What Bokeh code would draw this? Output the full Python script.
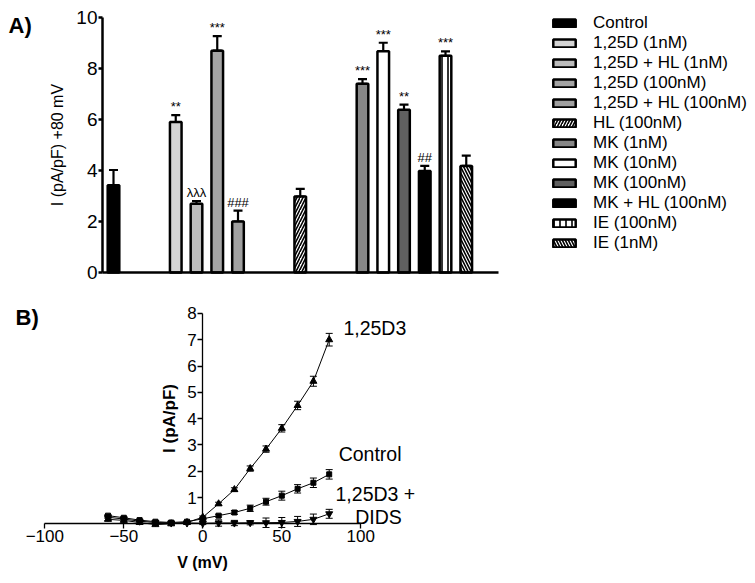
from bokeh.plotting import figure
from bokeh.models import (Range1d, LinearAxis, FixedTicker, ColumnDataSource, Whisker,
                          TeeHead, Legend, LegendItem, Label)
from bokeh.layouts import column
from bokeh.embed import file_html
from bokeh.resources import INLINE
from bokeh.core.properties import value

FONT = "Liberation Sans"

# ---------------- Panel A data ----------------
bar_labels = ["Control", "1,25D (1nM)", "1,25D + HL (1nM)", "1,25D (100nM)",
              "1,25D + HL (100nM)", "HL (100nM)", "MK (1nM)", "MK (10nM)",
              "MK (100nM)", "MK + HL (100nM)", "IE (100nM)", "IE (1nM)"]
bar_values = [3.42, 5.9, 2.7, 8.7, 2.0, 2.98, 7.4, 8.68, 6.38, 3.98, 8.5, 4.18]
bar_err_up = [0.6, 0.27, 0.1, 0.57, 0.43, 0.3, 0.18, 0.33, 0.2, 0.2, 0.17, 0.4]
bar_err_down = [0.0, 0.27, 0.1, 0.0, 0.0, 0.0, 0.0, 0.0, 0.2, 0.0, 0.0, 0.0]
bar_marks = ["", "**", "λλλ", "***", "###", "", "***", "***", "**", "##", "***", ""]
bar_colors = ["#000000", "#d4d4d4", "#bcbcbc", "#a4a4a4", "#a0a0a0", "#ffffff",
              "#878787", "#ffffff", "#606060", "#000000", "#ffffff", "#ffffff"]
bar_hatch = [" ", " ", " ", " ", " ", "/", " ", " ", " ", " ", "|", "\\"]
group_sizes = [1, 4, 1, 6]
a_ticks = [0, 2, 4, 6, 8, 10]

# ---------------- Panel B data ----------------
volts = [-60, -50, -40, -30, -20, -10, 0, 10, 20, 30, 40, 50, 60, 70, 80]
d3 = [0.17, 0.13, 0.05, -0.03, 0.0, 0.05, 0.25, 0.76, 1.3, 2.1, 2.84, 3.63, 4.5, 5.42, 7.0]
d3_err = [0.05, 0.05, 0.04, 0.03, 0.03, 0.03, 0.05, 0.06, 0.07, 0.1, 0.12, 0.14, 0.16, 0.19, 0.24]
ctrl = [0.31, 0.23, 0.14, 0.08, 0.05, 0.08, 0.19, 0.31, 0.43, 0.59, 0.84, 1.07, 1.33, 1.56, 1.88]
ctrl_err = [0.04, 0.04, 0.03, 0.03, 0.03, 0.03, 0.05, 0.05, 0.07, 0.12, 0.13, 0.17, 0.16, 0.18, 0.18]
dids = [0.25, 0.18, 0.1, 0.05, 0.03, 0.03, 0.02, 0.03, 0.03, 0.04, 0.04, 0.05, 0.09, 0.17, 0.38]
dids_err = [0.03, 0.03, 0.03, 0.03, 0.03, 0.03, 0.05, 0.12, 0.1, 0.08, 0.18, 0.19, 0.19, 0.2, 0.17]
b_xticks = [-100, -50, 0, 50, 100]
b_yticks = [1, 2, 3, 4, 5, 6, 7, 8]
curve_labels = ["1,25D3", "Control", "1,25D3 +", "DIDS"]

# ================= Panel A =================
WA, HA = 755, 293
SLOT = 20.75      # px per slot
X0 = 113          # px of slot 0
Y0 = 272          # px of value 0 (from top)
UA = 25.5         # px per unit

slots = []
s = 0
for gi, n in enumerate(group_sizes):
    for k in range(n):
        slots.append(s)
        s += 1
    s += 2

pa = figure(width=WA, height=HA, output_backend="svg", toolbar_location=None,
            x_range=Range1d(-X0 / SLOT, (WA - X0) / SLOT),
            y_range=Range1d(-(HA - Y0) / UA, Y0 / UA),
            x_axis_location=None, y_axis_location=None, min_border=0)
pa.outline_line_color = None
pa.grid.grid_line_color = None

upper = [v + e for v, e in zip(bar_values, bar_err_up)]
lower = [v - e for v, e in zip(bar_values, bar_err_down)]
src = ColumnDataSource(dict(x=slots, top=bar_values, color=bar_colors, hatch=bar_hatch,
                            upper=upper, lower=lower, ty=[u + 0.04 for u in upper],
                            mark=bar_marks))

bars = pa.vbar(x="x", top="top", bottom=0, width=0.56, fill_color="color",
               line_color="black", line_width=2.5, hatch_pattern="hatch",
               hatch_color="black", hatch_scale=6, hatch_weight=1.6, source=src)

pa.add_layout(Whisker(base="x", upper="upper", lower="lower", source=src,
                      line_width=2.2, line_color="black",
                      upper_head=TeeHead(size=9, line_width=2.2, line_color="black"),
                      lower_head=TeeHead(size=9, line_width=2.2, line_color="black")))

pa.text(x="x", y="ty", text="mark", text_align="center", text_baseline="bottom",
        text_font_size="13px", text_font=value(FONT), text_color="black", source=src)

axis_x = (102 - X0) / SLOT
ya = LinearAxis(fixed_location=axis_x, bounds=(0, 10), ticker=FixedTicker(ticks=a_ticks),
                axis_label="I (pA/pF) +80 mV")
ya.axis_line_width = 2.5
ya.major_tick_line_width = 2.5
ya.major_tick_out = 4
ya.major_tick_in = 0
ya.minor_tick_line_color = None
ya.major_label_standoff = 1
ya.major_label_text_font = FONT
ya.major_label_text_font_size = "19px"
ya.major_label_text_color = "black"
ya.axis_label_text_font = FONT
ya.axis_label_text_font_size = "16px"
ya.axis_label_text_font_style = "normal"
ya.axis_label_text_color = "black"
ya.axis_label_standoff = 7
pa.add_layout(ya, "left")

xa = LinearAxis(fixed_location=0, bounds=(axis_x, (498 - X0) / SLOT),
                ticker=FixedTicker(ticks=[]))
xa.axis_line_width = 2.5
xa.major_label_text_font_size = "0px"
xa.major_tick_line_color = None
xa.minor_tick_line_color = None
pa.add_layout(xa, "below")

items = [LegendItem(label=lab, renderers=[bars], index=i) for i, lab in enumerate(bar_labels)]
leg = Legend(items=items, location=(550 - 0, HA - 253), padding=0, margin=0,
             border_line_color=None, background_fill_alpha=0,
             glyph_width=28, glyph_height=10, label_standoff=15,
             label_height=20, spacing=0,
             label_text_font=FONT, label_text_font_size="17px", label_text_color="black")
pa.add_layout(leg, "center")

pa.add_layout(Label(x=8, y=HA - 25, x_units="screen", y_units="screen", text="A)",
                    text_font=FONT, text_font_size="22px", text_font_style="bold",
                    text_baseline="alphabetic", text_color="black"))

# ================= Panel B =================
WB, HB = 755, 290
XB0 = 202.3    # px of V=0
UXB = 1.58     # px per mV
YB0 = 230.3    # px of I=0 from top
UYB = 26.3     # px per pA/pF

pb = figure(width=WB, height=HB, output_backend="svg", toolbar_location=None,
            x_range=Range1d(-XB0 / UXB, (WB - XB0) / UXB),
            y_range=Range1d(-(HB - YB0) / UYB, YB0 / UYB),
            x_axis_location=None, y_axis_location=None, min_border=0)
pb.outline_line_color = None
pb.grid.grid_line_color = None

series = [(d3, d3_err, "triangle", 7), (ctrl, ctrl_err, "square", 5),
          (dids, dids_err, "inverted_triangle", 7)]
for vals, errs, mk, sz in series:
    s_src = ColumnDataSource(dict(x=volts, y=vals,
                                  u=[v + e for v, e in zip(vals, errs)],
                                  l=[v - e for v, e in zip(vals, errs)]))
    pb.line(x="x", y="y", line_color="black", line_width=1, source=s_src)
    pb.add_layout(Whisker(base="x", upper="u", lower="l", source=s_src, line_width=1,
                          line_color="black",
                          upper_head=TeeHead(size=7, line_width=1, line_color="black"),
                          lower_head=TeeHead(size=7, line_width=1, line_color="black")))
    pb.scatter(x="x", y="y", marker=mk, size=sz, fill_color="black", line_color="black",
               source=s_src)

lab_x = [volts[-1] + 9, volts[-1] + 6, volts[-1] + 4, volts[-1] + 16.5]
lab_y = [d3[-1] + 0.43, ctrl[-1] + 0.79, dids[-1] + 0.77, dids[-1] - 0.14]
pb.text(x=lab_x, y=lab_y, text=curve_labels, text_align="left", text_baseline="middle",
        text_font_size="19.5px", text_font=value(FONT), text_color="black")

xb = LinearAxis(fixed_location=0, bounds=(-100, 100), ticker=FixedTicker(ticks=b_xticks),
                axis_label="V (mV)")
yb = LinearAxis(fixed_location=0, bounds=(0, 8), ticker=FixedTicker(ticks=b_yticks),
                axis_label="I (pA/pF)")
for ax in (xb, yb):
    ax.axis_line_width = 1.3
    ax.major_tick_line_width = 1.3
    ax.major_tick_out = 5
    ax.major_tick_in = 0
    ax.minor_tick_line_color = None
    ax.major_label_standoff = 1
    ax.major_label_text_font = FONT
    ax.major_label_text_font_size = "17px"
    ax.major_label_text_color = "black"
    ax.axis_label_text_font = FONT
    ax.axis_label_text_font_style = "bold"
    ax.axis_label_text_color = "black"
xb.axis_label_text_font_size = "16px"
yb.axis_label_text_font_size = "17px"
xb.axis_label_standoff = 9
yb.axis_label_standoff = 5
pb.add_layout(xb, "below")
pb.add_layout(yb, "left")

pb.add_layout(Label(x=15, y=HB - 24, x_units="screen", y_units="screen", text="B)",
                    text_font=FONT, text_font_size="22px", text_font_style="bold",
                    text_baseline="alphabetic", text_color="black"))

layout = column(pa, pb, spacing=0)
open("out.html", "w").write(file_html(layout, INLINE))
